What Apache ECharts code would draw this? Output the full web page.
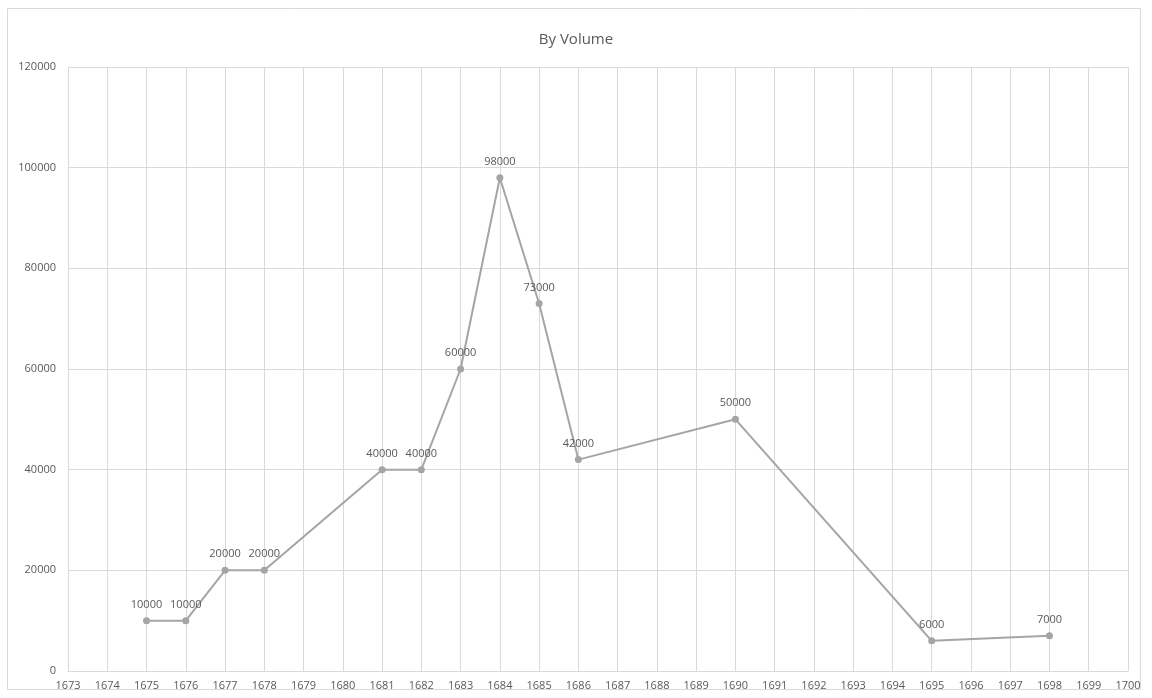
<!DOCTYPE html>
<html>
<head>
<meta charset="utf-8">
<title>By Volume</title>
<script src="https://cdn.jsdelivr.net/npm/echarts@6/dist/echarts.min.js"></script>
<style>
  html, body { margin: 0; padding: 0; background: #fff; }
  #chart { width: 1152px; height: 698px; }
</style>
</head>
<body>
<div id="chart"></div>
<script>
// Yearly volumes
const years = [1675, 1676, 1677, 1678, 1681, 1682, 1683, 1684, 1685, 1686, 1690, 1695, 1698];
const volumes = [10000, 10000, 20000, 20000, 40000, 40000, 60000, 98000, 73000, 42000, 50000, 6000, 7000];

const xMin = 1673, xMax = 1700;
const yMin = 0, yMax = 120000, yStep = 20000;

const chart = echarts.init(document.getElementById('chart'), null, { renderer: 'canvas' });

const textColor = '#595959';
const gridColor = '#d9d9d9';
const lineColor = '#a5a5a5';
const font = '"Open Sans", "Liberation Sans", sans-serif';

chart.setOption({
  backgroundColor: '#ffffff',
  animation: false,
  title: {
    text: 'By Volume',
    left: 'center',
    top: 27,
    textStyle: { color: textColor, fontSize: 15, fontWeight: 'normal', fontFamily: font }
  },
  graphic: [{
    type: 'rect',
    shape: { x: 7.5, y: 8.5, width: 1133, height: 681 },
    style: { fill: 'none', stroke: '#d9d9d9', lineWidth: 1 },
    silent: true
  }],
  grid: { left: 68, right: 24, top: 67, bottom: 27, containLabel: false },
  xAxis: {
    type: 'value',
    min: xMin,
    max: xMax,
    interval: 1,
    axisLine: { show: true, lineStyle: { color: gridColor, width: 1 } },
    axisTick: { show: false },
    splitLine: { show: true, lineStyle: { color: gridColor, width: 1 } },
    axisLabel: {
      color: textColor, fontSize: 11, fontFamily: font, margin: 9,
      formatter: v => String(v)
    }
  },
  yAxis: {
    type: 'value',
    min: yMin,
    max: yMax,
    interval: yStep,
    axisLine: { show: false },
    axisTick: { show: false },
    splitLine: { show: true, lineStyle: { color: gridColor, width: 1 } },
    axisLabel: {
      color: textColor, fontSize: 11, fontFamily: font, margin: 12,
      formatter: v => String(v)
    }
  },
  series: [{
    type: 'line',
    data: years.map((y, i) => [y, volumes[i]]),
    symbol: 'circle',
    symbolSize: 7,
    lineStyle: { color: lineColor, width: 2 },
    itemStyle: { color: lineColor },
    label: {
      show: true,
      position: 'top',
      distance: 7,
      color: textColor,
      fontSize: 11,
      fontFamily: font,
      formatter: p => String(p.value[1])
    }
  }]
});
</script>
</body>
</html>
